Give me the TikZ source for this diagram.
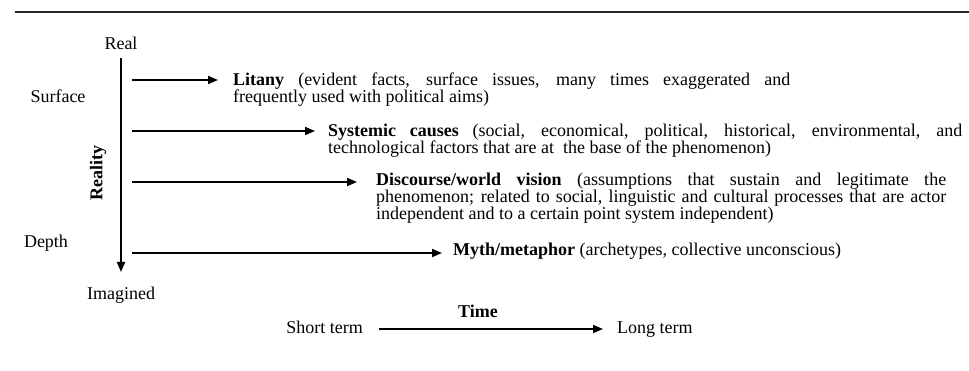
\documentclass[tikz,border=0pt]{standalone}
\usepackage{fontspec}
\setmainfont{Liberation Serif}
\usetikzlibrary{arrows.meta}
\newcommand{\fsz}{\fontsize{18}{17}\selectfont}
\tikzset{
  lbl/.style={inner sep=0pt, font=\fsz, anchor=base},
  para/.style={inner sep=0pt, font=\fsz, anchor=base west},
  arr/.style={line width=1.8pt, -{Triangle[length=10pt,width=8pt]}},
  rule/.style={line width=1.8pt, draw=black!85}
}
\begin{document}
\begin{tikzpicture}[x=1pt,y=-1pt]
\useasboundingbox (0,0) rectangle (969,371);
\fill[white] (0,0) rectangle (969,371);
% top rule
\coordinate (ruleL) at (15,12);
\coordinate (ruleR) at (969,12);
\draw[rule] (ruleL) -- (ruleR);
% vertical axis
\node[lbl] (real) at (121,50) {Real};
\node[lbl] (imag) at (121,299) {Imagined};
\coordinate (axTop) at (121,58);
\coordinate (axBot) at (121,272);
\draw[arr] (axTop) -- (axBot);
\node[lbl] (surface) at (58,103) {Surface};
\node[lbl] (depth) at (46,248) {Depth};
\node[inner sep=0pt, font=\fsz\bfseries, rotate=90] (reality) at (98,173) {Reality};
% levels
\node[para] (litany) at (233,86) {\parbox[t]{557pt}{\makebox[557pt][s]{\textbf{Litany} (evident facts, surface issues, many times exaggerated and}\\frequently used with political aims)}};
\node[para] (systemic) at (328,137) {\parbox[t]{634pt}{\makebox[634pt][s]{\textbf{Systemic causes} (social, economical, political, historical, environmental, and}\\technological factors that are at\ \ the base of the phenomenon)}};
\node[para] (discourse) at (376,186) {\parbox[t]{570pt}{\makebox[570pt][s]{\textbf{Discourse/world vision} (assumptions that sustain and legitimate the}\\\makebox[570pt][s]{phenomenon; related to social, linguistic and cultural processes that are actor}\\independent and to a certain point system independent)}};
\node[para] (myth) at (453,256) {\textbf{Myth/metaphor} (archetypes, collective unconscious)};
\coordinate (s1) at (132,80);
\coordinate (e1) at (218,80);
\coordinate (s2) at (132,131);
\coordinate (e2) at (315,131);
\coordinate (s3) at (132,182);
\coordinate (e3) at (357,182);
\coordinate (s4) at (132,253);
\coordinate (e4) at (442,253);
\draw[arr] (s1) -- (e1);
\draw[arr] (s2) -- (e2);
\draw[arr] (s3) -- (e3);
\draw[arr] (s4) -- (e4);
% time axis
\node[lbl, anchor=base east] (short) at (363,334) {Short term};
\node[lbl, anchor=base west] (long) at (617,334) {Long term};
\node[lbl, font=\fsz\bfseries] (time) at (478,318) {Time};
\coordinate (t1) at (379,329);
\coordinate (t2) at (603,329);
\draw[arr] (t1) -- (t2);
\end{tikzpicture}
\end{document}
